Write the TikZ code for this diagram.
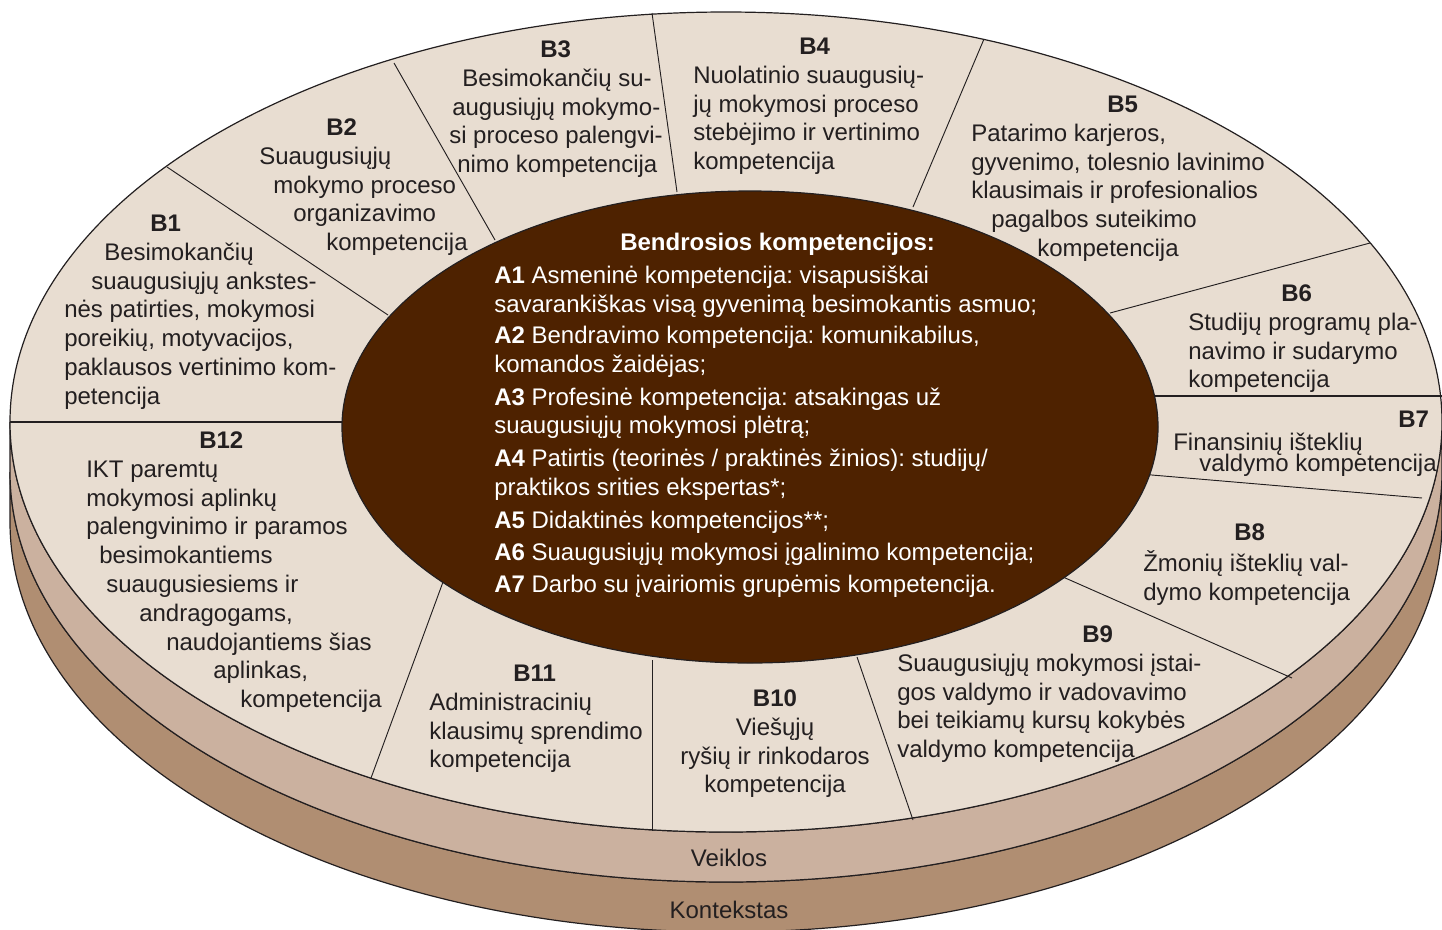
\documentclass[tikz,border=0pt]{standalone}
\usepackage{fontspec}
\setmainfont{Liberation Sans}
\usepackage{xcolor}
\usepackage{tikz}

\definecolor{faceTop}{HTML}{E8DDD1}
\definecolor{bandVeiklos}{HTML}{CBB19F}
\definecolor{bandKontekst}{HTML}{B08E72}
\definecolor{coreBrown}{HTML}{4E2200}
\definecolor{inkGray}{HTML}{231F20}

\newlength{\unitpx}
\setlength{\unitpx}{0.75pt}
\newcommand{\indpx}[1]{\hspace*{#1\unitpx}}

\tikzset{
  blk/.style={anchor=north west, inner sep=0.75pt, align=left, text=inkGray, font=\fontsize{18}{21.6}\selectfont\frenchspacing},
  coretext/.style={blk, text=white},
  lbl/.style={anchor=base, inner sep=0.75pt, text=inkGray, font=\fontsize{18}{21.6}\selectfont},
  rim/.style={draw=inkGray, line width=0.9pt},
  divline/.style={draw=inkGray, line width=0.7pt},
  divthick/.style={draw=inkGray, line width=1.3pt},
}

\begin{document}
\begin{tikzpicture}[x=0.75pt,y=0.75pt,yscale=-1,xscale=1]
\useasboundingbox (0,0) rectangle (1442,929);
\clip (0,0) rectangle (1442,929);

%Shape: Band [Kontekstas]
\filldraw [rim, fill=bandKontekst] (10,472) -- (10,522) arc [start angle=180, end angle=0, x radius=716, y radius=410] -- (1442,472) arc [start angle=0, end angle=180, x radius=716, y radius=410] -- cycle ;
%Shape: Band [Veiklos]
\filldraw [rim, fill=bandVeiklos] (10,422) -- (10,472) arc [start angle=180, end angle=0, x radius=716, y radius=410] -- (1442,422) arc [start angle=0, end angle=180, x radius=716, y radius=410] -- cycle ;
%Shape: Ellipse [top face]
\filldraw [rim, fill=faceTop] (726,422) ellipse [x radius=716, y radius=410] ;

%Straight Lines
\draw [divthick] (360,422) -- (10,422) ;
\draw [divline] (388,315) -- (167,167) ;
\draw [divline] (495,240) -- (394,63) ;
\draw [divline] (677,192) -- (652,13) ;
\draw [divline] (913,207) -- (984,39) ;
\draw [divline] (1110,313) -- (1370,243) ;
\draw [divthick] (1140,396) -- (1442,396) ;
\draw [divline] (1140,474) -- (1422,498) ;
\draw [divline] (1063,577) -- (1292,678) ;
\draw [divline] (857,657) -- (913,820) ;
\draw [divline] (652,660) -- (652,831) ;
\draw [divline] (443,582) -- (371,778) ;

%Shape: Ellipse [core]
\filldraw [rim, fill=coreBrown] (750,427) ellipse [x radius=408, y radius=236] ;

% Text Node
\draw (63,210) node [blk] (b1) {\strut\indpx{86}\textbf{B1}\\\indpx{40}Besimokančių\\\indpx{27}suaugusiųjų ankstes-\\nės patirties, mokymosi\\poreikių, motyvacijos,\\paklausos vertinimo kom-\\petencija};
% Text Node
\draw (258,114) node [blk] (b2) {\strut\indpx{67}\textbf{B2}\\Suaugusiųjų\\\indpx{14}mokymo proceso\\\indpx{34}organizavimo\\\indpx{67}kompetencija};
% Text Node
\draw (448,36) node [blk] (b3) {\strut\indpx{91}\textbf{B3}\\\indpx{13}Besimokančių su-\\\indpx{3}augusiųjų mokymo-\\si proceso palengvi-\\\indpx{8}nimo kompetencija};
% Text Node
\draw (692,33) node [blk] (b4) {\strut\indpx{106}\textbf{B4}\\Nuolatinio suaugusių-\\jų mokymosi proceso\\stebėjimo ir vertinimo\\kompetencija};
% Text Node
\draw (970,91) node [blk] (b5) {\strut\indpx{136}\textbf{B5}\\Patarimo karjeros,\\gyvenimo, tolesnio lavinimo\\klausimais ir profesionalios\\\indpx{20}pagalbos suteikimo\\\indpx{66}kompetencija};
% Text Node
\draw (1187,280) node [blk] (b6) {\strut\indpx{93}\textbf{B6}\\Studijų programų pla-\\navimo ir sudarymo\\kompetencija};
% Text Node
\draw (1172,406) node [blk] (b7) {\strut\indpx{225}\textbf{B7}\\[-4.3pt]Finansinių išteklių\\[-5.8pt]\indpx{26}valdymo kompetencija};
% Text Node
\draw (1142,519) node [blk] (b8) {\strut\indpx{91}\textbf{B8}\\Žmonių išteklių val-\\dymo kompetencija};
% Text Node
\draw (896,621) node [blk] (b9) {\strut\indpx{185}\textbf{B9}\\Suaugusiųjų mokymosi įstai-\\gos valdymo ir vadovavimo\\bei teikiamų kursų kokybės\\valdymo kompetencija};
% Text Node
\draw (775,685) node [blk, anchor=north, align=center] (b10) {\strut\textbf{B10}\\Viešųjų\\ryšių ir rinkodaros\\kompetencija};
% Text Node
\draw (428,660) node [blk] (b11) {\strut\indpx{84}\textbf{B11}\\Administracinių\\klausimų sprendimo\\kompetencija};
% Text Node
\draw (85,427) node [blk] (b12) {\strut\indpx{113}\textbf{B12}\\IKT paremtų\\mokymosi aplinkų\\palengvinimo ir paramos\\\indpx{13}besimokantiems\\\indpx{20}suaugusiesiems ir\\\indpx{53}andragogams,\\\indpx{80}naudojantiems šias\\\indpx{127}aplinkas,\\\indpx{154}kompetencija};

% Text Node
\draw (493,229) node [coretext] (core) {\strut\indpx{126}\textbf{Bendrosios kompetencijos:}\\[3pt]
\textbf{A1} Asmeninė kompetencija: visapusiškai\\savarankiškas visą gyvenimą besimokantis asmuo;\\[2pt]
\textbf{A2} Bendravimo kompetencija: komunikabilus,\\komandos žaidėjas;\\[3pt]
\textbf{A3} Profesinė kompetencija: atsakingas už\\suaugusiųjų mokymosi plėtrą;\\[3pt]
\textbf{A4} Patirtis (teorinės / praktinės žinios): studijų/\\praktikos srities ekspertas*;\\[3pt]
\textbf{A5} Didaktinės kompetencijos**;\\[2.5pt]
\textbf{A6} Suaugusiųjų mokymosi įgalinimo kompetencija;\\[2.5pt]
\textbf{A7} Darbo su įvairiomis grupėmis kompetencija.};

% Text Node
\draw (729,866) node [lbl] (veiklos) {Veiklos};
% Text Node
\draw (729,918) node [lbl] (kontekstas) {Kontekstas};

\end{tikzpicture}
\end{document}
